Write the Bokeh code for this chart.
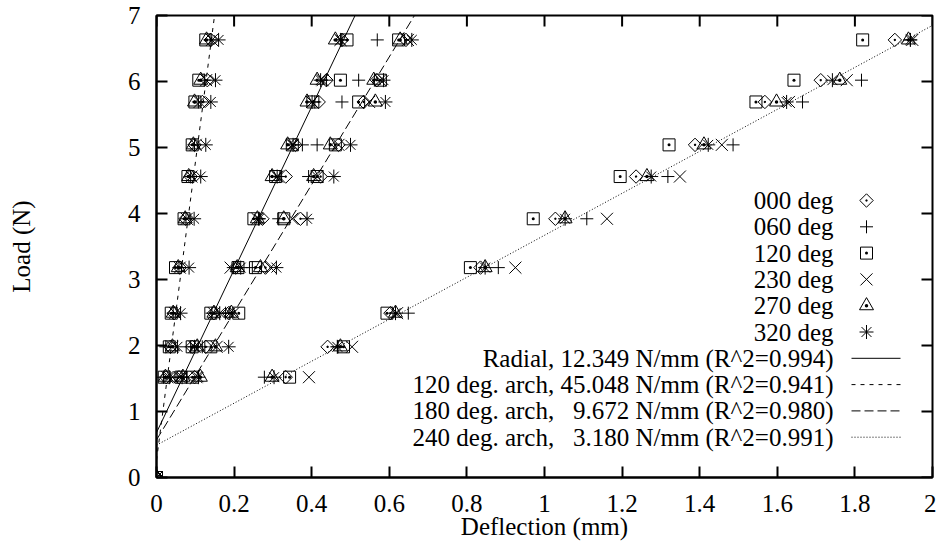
import numpy as np
from bokeh.plotting import figure
from bokeh.models import Range1d, FixedTicker
from bokeh.embed import file_html
from bokeh.resources import INLINE
from bokeh.core.properties import value

# ---------------- data ----------------
loads = [0, 1.52, 1.98, 2.49, 3.18, 3.92, 4.56, 5.04, 5.69, 6.02, 6.63]
angle_labels = ["000 deg", "060 deg", "120 deg", "230 deg", "270 deg", "320 deg"]

# deflection (mm) for each load in `loads`, per sensor angle
arch120_defl = {
    "000 deg": [0, 0.025, 0.036, 0.045, 0.060, 0.075, 0.088, 0.098, 0.118, 0.131, 0.140],
    "060 deg": [0, 0.018, 0.024, 0.043, 0.058, 0.076, 0.088, 0.098, 0.108, 0.123, 0.138],
    "120 deg": [0, 0.020, 0.033, 0.038, 0.049, 0.071, 0.081, 0.092, 0.099, 0.109, 0.127],
    "230 deg": [0, 0.028, 0.041, 0.048, 0.060, 0.078, 0.090, 0.101, 0.111, 0.128, 0.143],
    "270 deg": [0, 0.023, 0.041, 0.043, 0.056, 0.074, 0.083, 0.095, 0.098, 0.114, 0.129],
    "320 deg": [0, 0.033, 0.054, 0.062, 0.084, 0.097, 0.114, 0.127, 0.140, 0.152, 0.160],
}
radial_defl = {
    "000 deg": [0, 0.058, 0.092, 0.148, 0.204, 0.273, 0.333, 0.358, 0.418, 0.438, 0.478],
    "060 deg": [0, 0.053, 0.088, 0.143, 0.198, 0.263, 0.318, 0.376, 0.408, 0.438, 0.478],
    "120 deg": [0, 0.063, 0.092, 0.140, 0.210, 0.251, 0.307, 0.350, 0.403, 0.474, 0.491],
    "230 deg": [0, 0.060, 0.098, 0.148, 0.191, 0.260, 0.311, 0.350, 0.401, 0.428, 0.474],
    "270 deg": [0, 0.068, 0.105, 0.148, 0.208, 0.260, 0.298, 0.338, 0.388, 0.414, 0.461],
    "320 deg": [0, 0.066, 0.098, 0.163, 0.217, 0.264, 0.311, 0.352, 0.401, 0.423, 0.474],
}
arch180_defl = {
    "000 deg": [0, 0.098, 0.127, 0.186, 0.281, 0.371, 0.423, 0.469, 0.534, 0.568, 0.643],
    "060 deg": [0, 0.078, 0.118, 0.178, 0.247, 0.315, 0.392, 0.414, 0.478, 0.521, 0.569],
    "120 deg": [0, 0.093, 0.140, 0.212, 0.255, 0.328, 0.414, 0.461, 0.521, 0.577, 0.624],
    "230 deg": [0, 0.103, 0.155, 0.198, 0.294, 0.350, 0.414, 0.469, 0.548, 0.577, 0.648],
    "270 deg": [0, 0.113, 0.152, 0.193, 0.268, 0.328, 0.405, 0.448, 0.564, 0.560, 0.628],
    "320 deg": [0, 0.108, 0.186, 0.189, 0.309, 0.388, 0.457, 0.500, 0.590, 0.585, 0.658],
}
arch240_defl = {
    "000 deg": [0, 0.333, 0.441, 0.603, 0.835, 1.028, 1.236, 1.388, 1.568, 1.712, 1.903],
    "060 deg": [0, 0.278, 0.468, 0.649, 0.881, 1.109, 1.318, 1.486, 1.665, 1.817, 1.943],
    "120 deg": [0, 0.343, 0.482, 0.594, 0.809, 0.971, 1.195, 1.321, 1.545, 1.643, 1.820],
    "230 deg": [0, 0.393, 0.504, 0.620, 0.925, 1.161, 1.349, 1.457, 1.630, 1.779, 1.948],
    "270 deg": [0, 0.298, 0.474, 0.616, 0.847, 1.053, 1.264, 1.411, 1.598, 1.761, 1.938],
    "320 deg": [0, 0.303, 0.466, 0.616, 0.847, 1.053, 1.275, 1.422, 1.624, 1.742, 1.943],
}

fit_names = ["Radial", "120 deg. arch", "180 deg. arch", "240 deg. arch"]
fit_slopes = [12.349, 45.048, 9.672, 3.180]
fit_r2 = [0.994, 0.941, 0.980, 0.991]
fit_intercepts = [0.68, 0.26, 0.57, 0.49]

xtick_values = [0, 0.2, 0.4, 0.6, 0.8, 1, 1.2, 1.4, 1.6, 1.8, 2]
xtick_labels = ["0", "0.2", "0.4", "0.6", "0.8", "1", "1.2", "1.4", "1.6", "1.8", "2"]
ytick_values = [0, 1, 2, 3, 4, 5, 6, 7]

# ---------------- styles ----------------
FONT = "Liberation Serif"
FS = "25px"
marker_style = {
    "000 deg": dict(marker="square_dot", size=9.5, angle=np.pi / 4),
    "060 deg": dict(marker="cross", size=13, angle=0),
    "120 deg": dict(marker="square_dot", size=12, angle=0),
    "230 deg": dict(marker="x", size=17, angle=0),
    "270 deg": dict(marker="triangle_dot", size=14, angle=0),
    "320 deg": dict(marker="asterisk", size=14, angle=0),
}
fit_dashes = ["solid", "4 5", "9 4", "1 2"]

X0, X1, Y0, Y1 = 0, 2, 0, 7
FL, FT, FW, FH = 156, 15, 776, 462   # frame placement in pixels

p = figure(frame_width=FW, frame_height=FH,
           x_range=Range1d(X0, X1), y_range=Range1d(Y0, Y1),
           output_backend="svg", toolbar_location=None,
           min_border_left=FL, min_border_top=FT, min_border_right=4,
           min_border_bottom=0)
p.xgrid.visible = False
p.ygrid.visible = False
p.outline_line_color = "black"
p.outline_line_width = 2
p.background_fill_color = "white"
p.border_fill_color = "white"

# fit lines
xs_line = np.array([X0, X1])
for name, k, b, dash in zip(fit_names, fit_slopes, fit_intercepts, fit_dashes):
    p.line(xs_line, k * xs_line + b, line_color="black", line_width=1, line_dash=dash)

# data points
for dset in [arch120_defl, radial_defl, arch180_defl, arch240_defl]:
    for lab in angle_labels:
        st = marker_style[lab]
        p.scatter(dset[lab], loads, marker=st["marker"], size=st["size"], angle=st["angle"],
                  line_color="black", fill_color=None, line_width=1)

# axes (ticks point inward)
def style_axis(ax):
    ax.axis_line_width = 2
    ax.major_tick_in = 11
    ax.major_tick_out = 0
    ax.major_tick_line_width = 2
    ax.minor_tick_line_color = None
    ax.major_label_text_font = FONT
    ax.major_label_text_font_size = FS
    ax.major_label_text_color = "black"
    ax.axis_label_text_font = FONT
    ax.axis_label_text_font_size = FS
    ax.axis_label_text_font_style = "normal"
    ax.axis_label_text_color = "black"

xax = p.xaxis[0]
xax.ticker = FixedTicker(ticks=xtick_values)
xax.major_label_overrides = {v: s for v, s in zip(xtick_values, xtick_labels)}
xax.axis_label = "Deflection (mm)"
style_axis(xax)
xax.major_label_standoff = 17
xax.axis_label_standoff = -2

yax = p.yaxis[0]
yax.ticker = FixedTicker(ticks=ytick_values)
yax.axis_label = "Load (N)"
style_axis(yax)
yax.major_label_standoff = 16
yax.axis_label_standoff = 90

# mirrored inward ticks on top and right edges
p.ray(x=xtick_values, y=[Y1] * len(xtick_values), length=11, length_units="screen",
      angle=-np.pi / 2, line_color="black", line_width=2)
p.ray(x=[X1] * len(ytick_values), y=ytick_values, length=11, length_units="screen",
      angle=np.pi, line_color="black", line_width=2)

# legend (drawn manually: right-aligned text, sample at right)
def px2x(px):
    return X0 + (px - FL) / FW * (X1 - X0)

def py2y(py):
    return Y0 + (FT + FH - py) / FH * (Y1 - Y0)

leg_text_x = px2x(833)
leg_sym_x = px2x(866)
leg_row0 = 200
leg_step = 26.3

legend_texts = list(angle_labels) + [
    "%s, %s N/mm (R^2=%.3f)" % (n, ("%6.3f" % k).replace(" ", "\u2007"), r)
    for n, k, r in zip(fit_names, fit_slopes, fit_r2)
]
rows_y = [py2y(leg_row0 + i * leg_step) for i in range(len(legend_texts))]
p.text(x=[leg_text_x] * len(legend_texts), y=rows_y, text=legend_texts,
       text_align="right", text_baseline="middle",
       text_font=value(FONT), text_font_size=FS, text_color="black")

for i, lab in enumerate(angle_labels):
    st = marker_style[lab]
    p.scatter([leg_sym_x], [rows_y[i]], marker=st["marker"], size=st["size"], angle=st["angle"],
              line_color="black", fill_color=None, line_width=1)

for j, dash in enumerate(fit_dashes):
    yy = rows_y[len(angle_labels) + j]
    p.line([px2x(851), px2x(900)], [yy, yy], line_color="black", line_width=1, line_dash=dash)

open("out.html", "w").write(file_html(p, INLINE))
